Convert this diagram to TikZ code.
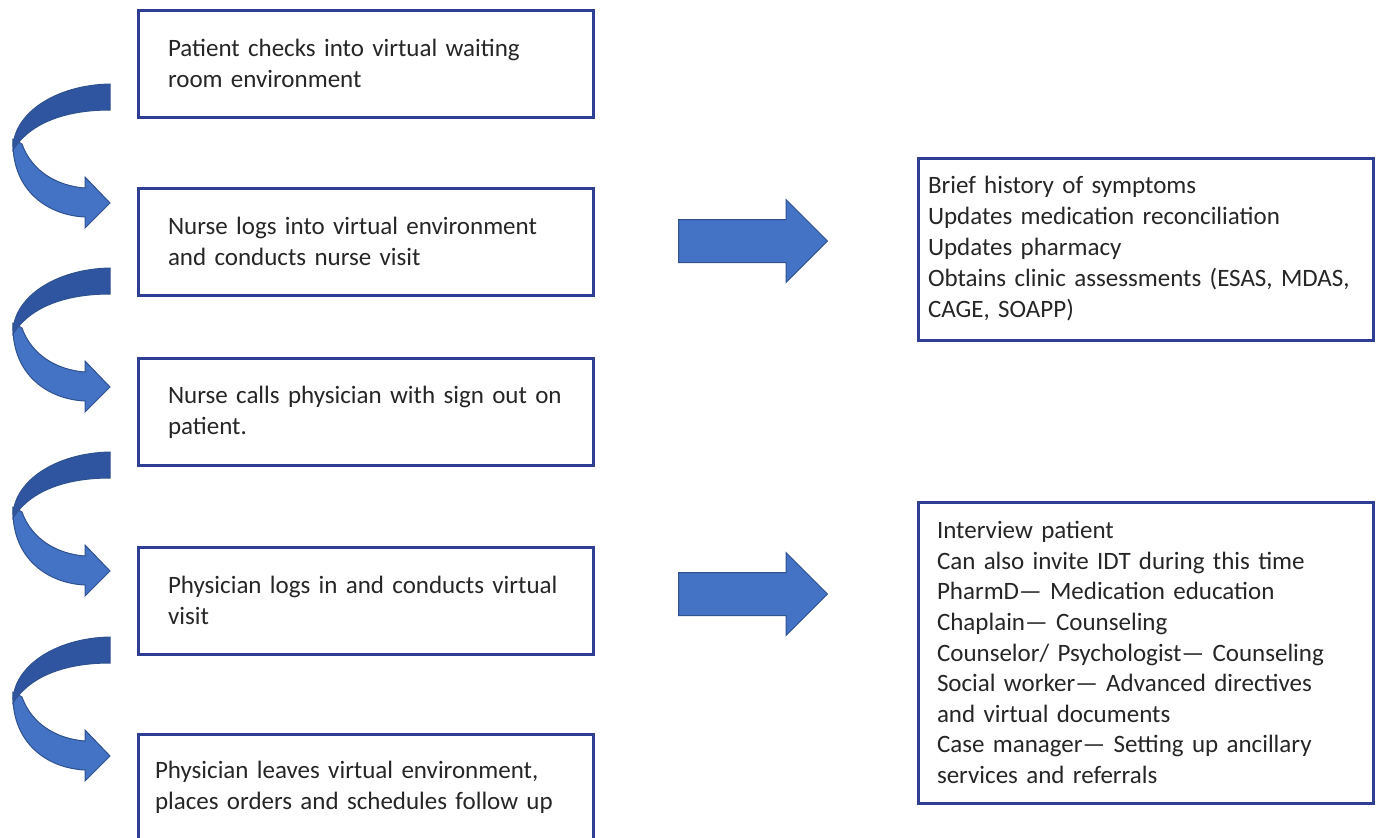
\documentclass[tikz,border=0pt]{standalone}
\usepackage{fontspec}
\setmainfont{Carlito}
\usetikzlibrary{shapes.arrows}

\definecolor{boxblue}{RGB}{46,62,148}
\definecolor{arrowfill}{RGB}{68,114,196}
\definecolor{arrowdark}{RGB}{47,85,160}
\definecolor{arrowedge}{RGB}{47,82,143}

\begin{document}
\begin{tikzpicture}[x=0.5pt,y=-0.5pt,
  step box/.style={draw=boxblue,line width=1.5pt,fill=white,minimum width=227.5pt,
    minimum height=53.5pt,text width=197.5pt,inner xsep=15pt,align=left,
    text=black!85,font=\fontsize{12.5}{15.5}\selectfont},
  info box/.style={step box,inner xsep=5pt,text width=217.5pt},
  block arrow/.style={single arrow,fill=arrowfill,draw=arrowedge,line width=0.5pt,anchor=tail,
    minimum height=74.5pt,inner xsep=0pt,inner ysep=10.5pt,single arrow head extend=10pt}]

 \useasboundingbox (0,0) rectangle (1378,837);

 \node[step box] (checkin) at (365.5,63.5) {Patient checks into virtual waiting\\room environment};
 \node[step box] (nurse) at (365.5,241.5) {Nurse logs into virtual environment\\and conducts nurse visit};
 \node[step box] (signout) at (365.5,412) {Nurse calls physician with sign out on\\patient.};
 \node[step box] (visit) at (365.5,600.5) {Physician logs in and conducts virtual\\visit};
 \node[step box,inner xsep=8.5pt,text width=210.5pt] (leave) at (365.5,787.5) {Physician leaves virtual environment,\\places orders and schedules follow up};

 \node[info box,minimum height=91pt] (nursetasks) at (1145.5,249) {Brief history of symptoms\\Updates medication reconciliation\\Updates pharmacy\\Obtains clinic assessments (ESAS, MDAS,\\CAGE, SOAPP)};
 \node[info box,minimum height=150.5pt,inner xsep=9.5pt,text width=208.5pt,font=\fontsize{12.5}{15.3}\selectfont] (physiciantasks) at (1145.5,652.5) {Interview patient\\Can also invite IDT during this time\\PharmD— Medication education\\Chaplain— Counseling\\Counselor/ Psychologist— Counseling\\Social worker— Advanced directives\\and virtual documents\\Case manager— Setting up ancillary\\services and referrals};

 \node[block arrow] (toNurse) at (678,241) {};
 \node[block arrow] (toPhysician) at (678,594) {};

 \foreach \t in {84,268,452,637}{
  \begin{scope}[shift={(0,\t)}]
   \filldraw[fill=arrowfill,draw=arrowedge,line width=0.5pt]
     (13,55) .. controls (11,104) and (45,131) .. (85,133) -- (85,144) -- (110,119)
     -- (85,93) -- (85,104) .. controls (58,102) and (32,88) .. (22,60) -- cycle;
   \filldraw[fill=arrowdark,draw=arrowedge,line width=0.5pt]
     (110,0) .. controls (55,1) and (12,30) .. (13,66)
     .. controls (28,42) and (60,26) .. (110,26) -- cycle;
  \end{scope}
 }

\end{tikzpicture}
\end{document}
